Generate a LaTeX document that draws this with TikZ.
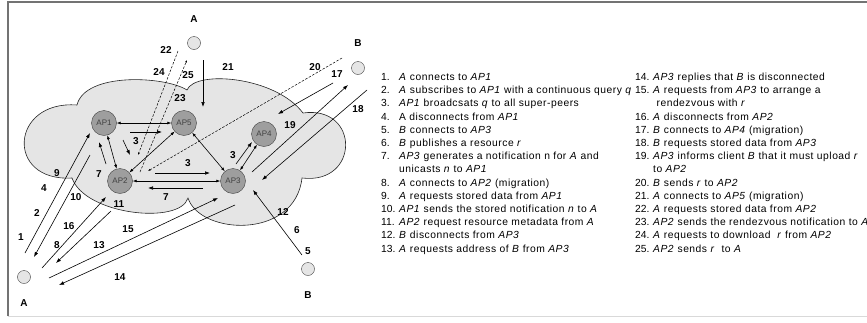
\documentclass[tikz,border=0pt]{standalone}
\usepackage{fontspec}
\setmainfont{Liberation Sans}
\newfontfamily\legendfont{Liberation Sans}[LetterSpace=5]
\usetikzlibrary{arrows.meta}

\tikzset{
  ap/.style={circle, draw=black!75, fill=black!38, minimum size=25pt, inner sep=0pt,
    font=\fontsize{8}{9}\selectfont, text=black!75},
  client/.style={circle, draw=black!75, fill=black!10, minimum size=13pt, inner sep=0pt},
  msg/.style={-{Latex[length=5pt,width=3.6pt]}, line width=0.6pt},
  both/.style={{Latex[length=4pt,width=3pt]}-{Latex[length=4pt,width=3pt]}, line width=0.6pt},
  dmsg/.style={dashed, dash pattern=on 2.5pt off 1.5pt, -{Latex[length=2.5pt,width=2pt]}, line width=0.5pt},
  num/.style={font=\fontsize{10}{12}\bfseries\selectfont, inner sep=0pt},
  legend/.style={font=\legendfont\fontsize{10.3}{13.2}\selectfont, inner sep=0pt, anchor=north west},
}
\newcommand{\itemno}[1]{\makebox[18pt][l]{\rmfamily #1}}

\begin{document}
\begin{tikzpicture}[x=1pt, y=-1pt]
  \useasboundingbox (0,0) rectangle (867,322);
  % frame
  \draw[black!15, line width=0.8pt] (8,316) -- (867,316);
  \draw[black!55, line width=1.2pt] (8,316) -- (8,2) -- (867,2);

  % the super-peer cloud
  \draw[fill=black!10, draw=black!85, line width=0.6pt]
    (72,178) .. controls (5,182) and (10,100) .. (77,105)
    .. controls (85,72) and (165,76) .. (187,90)
    .. controls (195,70) and (275,76) .. (303,113)
    .. controls (360,105) and (360,185) .. (302,178)
    .. controls (295,240) and (200,235) .. (188,198)
    .. controls (180,225) and (85,215) .. cycle;

  % super-peers
  \node[ap] (ap1) at (104,123) {AP1};
  \node[ap] (ap5) at (184,123) {AP5};
  \node[ap] (ap4) at (264,134) {AP4};
  \node[ap] (ap2) at (120,181) {AP2};
  \node[ap] (ap3) at (233,181) {AP3};

  % clients
  \node[client] (aLow) at (24,277) {};
  \node[client] (aTop) at (194,43) {};
  \node[client] (bTop) at (358,68) {};
  \node[client] (bLow) at (308,269) {};
  \node[num] (aLowName) at (24,303) {A};
  \node[num] (aTopName) at (194,19) {A};
  \node[num] (bTopName) at (358,43) {B};
  \node[num] (bLowName) at (308,295) {B};

  % overlay links
  \draw[both] (ap1) -- (ap5);
  \draw[both] (ap1) -- (ap2);
  \draw[both] (ap2) -- (ap5);
  \draw[both] (ap2) -- (ap3);
  \draw[both] (ap5) -- (ap3);
  \draw[both] (ap3) -- (ap4);

  % message ends
  \foreach \c/\x/\y in {m1s/25/253, m1e/90/133, m2s/90/155, m2e/34/257,
      m8s/42/268, m8e/106/197, m11s/111/211, m11e/56/263,
      m15s/49/278, m15e/218/198, m14s/235/205, m14e/59/285,
      m12s/302/255, m12e/253/190, m17s/333/83, m17e/278/114,
      m19s/252/172, m19e/348/85, m18s/367/90, m18e/262/180,
      m21s/203/60, m21e/203/107, p3as/130/132, p3ae/162/132,
      p3bs/123/140, p3be/130/155, p7as/106/164, p7ae/99/142,
      p3cs/155/173, p3ce/210/173, p7bs/203/188, p7be/148/188,
      p3ds/236/164, p3de/252/142,
      d20s/342/58, d20e/148/171, d22s/178/51, d22e/138/155,
      d25s/140/172, d25e/187/60}
    \coordinate (\c) at (\x,\y);

  \foreach \s in {m1, m2, m8, m11, m15, m14, m12, m17, m19, m18, m21,
      p3a, p3b, p7a, p3c, p7b, p3d}
    \draw[msg] (\s s) -- (\s e);
  \foreach \s in {d20, d22, d25}
    \draw[dmsg] (\s s) -- (\s e);

  % step numbers
  \foreach \t/\x/\y [count=\i] in {1/21/237, 2/37/213, 4/44/188, 9/57/173,
      10/76/197, 16/69/226, 8/57/245, 11/119/204, 13/99/245, 15/128/229,
      14/120/277, 12/283/212, 6/297/230, 5/308/251, 17/337/74, 19/290/125,
      18/358/109, 20/315/67, 21/228/67, 22/166/50, 24/159/72, 25/188/75,
      23/180/98, 3/136/141, 7/99/174, 3/188/163, 7/166/197, 3/233/155}
    \node[num] (step\i) at (\x,\y) {\t};

  % legend
  \node[legend] (legLeft) at (381,71) {%
    \begin{tabular}{@{}l@{}l@{}}
    \itemno{1.} & \textit{A} connects to \textit{AP1}\\
    \itemno{2.} & \textit{A} subscribes to \textit{AP1} with a continuous query \textit{q}\\
    \itemno{3.} & \textit{AP1} broadcsats \textit{q} to all super-peers\\
    \itemno{4.} & A disconnects from \textit{AP1}\\
    \itemno{5.} & \textit{B} connects to \textit{AP3}\\
    \itemno{6.} & \textit{B} publishes a resource \textit{r}\\
    \itemno{7.} & \textit{AP3} generates a notification n for \textit{A} and\\
                & unicasts \textit{n} to \textit{AP1}\\
    \itemno{8.} & \textit{A} connects to \textit{AP2} (migration)\\
    \itemno{9.} & \textit{A} requests stored data from \textit{AP1}\\
    \itemno{10.} & \textit{AP1} sends the stored notification \textit{n} to \textit{A}\\
    \itemno{11.} & \textit{AP2} request resource metadata from \textit{A}\\
    \itemno{12.} & \textit{B} disconnects from \textit{AP3}\\
    \itemno{13.} & \textit{A} requests address of \textit{B} from \textit{AP3}
    \end{tabular}};
  \node[legend] (legRight) at (635,71) {%
    \begin{tabular}{@{}l@{}l@{}}
    \itemno{14.} & \textit{AP3} replies that \textit{B} is disconnected\\
    \itemno{15.} & \textit{A} requests from \textit{AP3} to arrange a\\
                 & \ rendezvous with \textit{r}\\
    \itemno{16.} & \textit{A} disconnects from \textit{AP2}\\
    \itemno{17.} & \textit{B} connects to \textit{AP4} (migration)\\
    \itemno{18.} & \textit{B} requests stored data from \textit{AP3}\\
    \itemno{19.} & \textit{AP3} informs client \textit{B} that it must upload \textit{r}\\
                 & to \textit{AP2}\\
    \itemno{20.} & \textit{B} sends \textit{r} to \textit{AP2}\\
    \itemno{21.} & \textit{A} connects to \textit{AP5} (migration)\\
    \itemno{22.} & \textit{A} requests stored data from \textit{AP2}\\
    \itemno{23.} & \textit{AP2} sends the rendezvous notification to \textit{A}\\
    \itemno{24.} & \textit{A} requests to download \ \textit{r} from \textit{AP2}\\
    \itemno{25.} & \textit{AP2} sends \textit{r} \ to \textit{A}
    \end{tabular}};
\end{tikzpicture}
\end{document}
